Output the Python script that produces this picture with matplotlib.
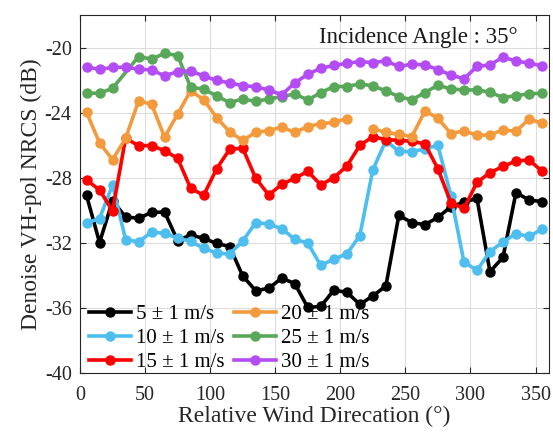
import numpy as np
import matplotlib
matplotlib.use("Agg")
import matplotlib.pyplot as plt

plt.rcParams['font.family'] = ['Liberation Serif', 'DejaVu Serif']
plt.rcParams['axes.unicode_minus'] = False

directions = [5, 15, 25, 35, 45, 55, 65, 75, 85, 95, 105, 115, 125, 135, 145, 155, 165, 175,
              185, 195, 205, 215, 225, 235, 245, 255, 265, 275, 285, 295, 305, 315, 325, 335, 345, 355]

ws5 = [-29.08, -31.97, -29.4, -30.4, -30.48, -30.12, -30.1, -31.86, -31.5, -31.72, -32.02, -32.22,
       -34.02, -34.93, -34.78, -34.16, -34.49, -35.96, -35.89, -34.9, -35.02, -35.77, -35.25, -34.64,
       -30.3, -30.75, -30.87, -30.43, -29.77, -29.5, -29.25, -33.76, -32.88, -28.9, -29.36, -29.46]
ws10 = [-30.77, -30.5, -28.43, -31.79, -31.93, -31.33, -31.4, -31.69, -31.9, -32.32, -32.62, -32.67,
        -31.88, -30.75, -30.83, -31.12, -31.77, -32.0, -33.38, -32.99, -32.67, -31.55, -27.5, -25.72,
        -26.37, -26.39, -26.22, -26.0, -29.1, -33.16, -33.68, -32.53, -31.94, -31.42, -31.6, -31.15]
ws15 = [-28.13, -28.74, -30.03, -25.57, -26.02, -26.02, -26.33, -26.8, -28.64, -29.07, -27.44, -26.24,
        -26.18, -28.02, -29.05, -28.4, -28.02, -27.6, -28.43, -27.99, -27.28, -26.01, -25.47, -25.65,
        -25.7, -25.75, -25.92, -27.44, -29.53, -29.88, -28.28, -27.68, -27.3, -26.96, -26.9, -27.59]
ws20 = [-23.97, -25.85, -26.88, -25.58, -23.27, -23.48, -25.5, -24.09, -22.65, -23.2, -24.3, -25.18,
        -25.7, -25.2, -25.1, -24.88, -25.21, -24.85, -24.67, -24.6, -24.36, np.nan, -24.98, -25.21,
        -25.33, -25.47, -23.9, -24.33, -25.29, -25.1, -25.39, -25.36, -25.05, -25.14, -24.39, -24.65]
ws25 = [-22.8, -22.8, -22.5, np.nan, -20.55, -20.71, -20.35, -20.49, -22.43, -22.55, -22.97, -23.38,
        -23.15, -23.31, -23.15, -23.01, -22.85, -23.21, -22.77, -22.39, -22.39, -22.23, -22.35, -22.66,
        -23.01, -23.21, -22.76, -22.31, -22.54, -22.6, -22.6, -22.74, -23.07, -22.95, -22.84, -22.8]
ws30 = [-21.2, -21.33, -21.22, -21.2, -21.33, -21.37, -21.74, -21.47, -21.43, -21.74, -22.02, -22.17,
        -22.33, -22.41, -22.6, -22.9, -22.17, -21.64, -21.27, -21.1, -20.96, -20.86, -20.92, -20.82,
        -21.16, -21.02, -21.06, -21.35, -21.68, -21.92, -21.16, -21.06, -20.59, -20.82, -20.96, -21.12]

labels = ['5 ± 1 m/s', '10 ± 1 m/s', '15 ± 1 m/s', '20 ± 1 m/s', '25 ± 1 m/s', '30 ± 1 m/s']
colors = ['#000000', '#4DBEEE', '#FF0000', '#F39A3C', '#59A859', '#B44CF5']
series = [ws5, ws10, ws15, ws20, ws25, ws30]
# series whose missing samples are bridged by the line (no sample taken there)
bridged = [False, False, False, False, True, False]

xticks = [0, 50, 100, 150, 200, 250, 300, 350]
yticks = [-40, -36, -32, -28, -24, -20]

fig = plt.figure(figsize=(5.53, 4.34), dpi=100)
ax = fig.add_axes([0.1447, 0.1399, 0.8472, 0.8255])

for y, c, lab, br in zip(series, colors, labels, bridged):
    x = np.asarray(directions, float)
    y = np.asarray(y, float)
    if br:
        m = ~np.isnan(y)
        x, y = x[m], y[m]
    ax.plot(x, y, '-o', color=c, lw=2.6, ms=6.5, label=lab, zorder=3)

ax.set_xlim(0, 360)
ax.set_ylim(-40, -18)
ax.set_xticks(xticks)
ax.set_yticks(yticks)
ax.grid(True, color='#dcdcdc', lw=0.8)
ax.set_axisbelow(True)
ax.tick_params(axis='both', direction='in', length=4, width=0.8, labelsize=14.5, colors='#262626',
               top=True, right=True)
ax.tick_params(axis='x', pad=9)
ax.tick_params(axis='y', pad=6)
for sp in ax.spines.values():
    sp.set_color('#262626')
    sp.set_linewidth(0.8)

ax.set_xlabel('Relative Wind Direcation (°)', fontsize=17, color='#262626', labelpad=1)
ax.set_ylabel('Denoise VH-pol NRCS (dB)', fontsize=17, color='#262626', labelpad=2)

ax.text(183.5, -19.35, 'Incidence Angle : 35°', fontsize=16.5, ha='left', va='center', color='#1a1a1a')

leg = ax.legend(loc='lower left', ncol=2, frameon=False, fontsize=15, handlelength=2.0,
                columnspacing=0.45, handletextpad=0.25, labelspacing=0.22,
                bbox_to_anchor=(-0.02, -0.05))

fig.savefig('out.png', dpi=100)
